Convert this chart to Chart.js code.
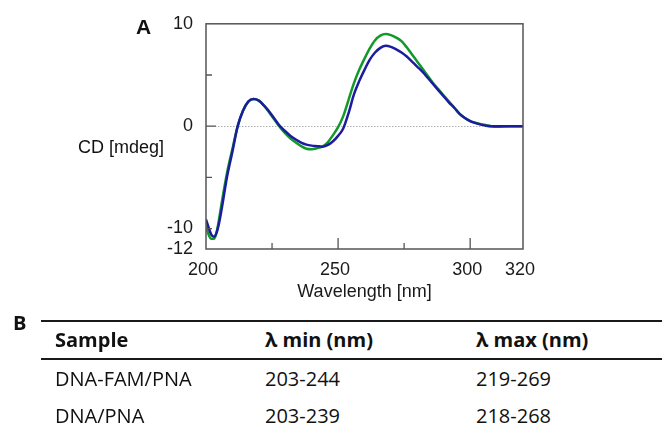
<!DOCTYPE html>
<html>
<head>
<meta charset="utf-8">
<script src="https://cdn.jsdelivr.net/npm/chart.js@4.4.1/dist/chart.umd.min.js"></script>
<style>
  html, body { margin: 0; padding: 0; background: #fff; }
  body { width: 662px; height: 431px; position: relative; overflow: hidden; }
  #wrap { position: absolute; left: 0; top: 0; width: 662px; height: 310px; }
  .lbl { position: absolute; white-space: nowrap; color: #111; }
  .panel { font-family: "Liberation Sans", Arial, sans-serif; font-weight: bold; font-size: 21px; }
  .tbl { font-family: "Open Sans", sans-serif; font-size: 20px; height: 28px; line-height: 28px; color: #111; }
  .hdr { font-weight: bold; }
  .rule { position: absolute; left: 41px; width: 621px; height: 2px; background: #1a1a1a; }
</style>
</head>
<body>
<div id="wrap"><canvas id="c" width="662" height="310"></canvas></div>
<div class="lbl panel" style="left:136px; top:15px;">A</div>
<div class="lbl" style="left:78px; top:137px; font-family:'Liberation Sans', Arial, sans-serif; font-size:18px;">CD [mdeg]</div>

<div class="lbl panel" style="left:13px; top:309px; font-family:'Open Sans', sans-serif; font-size:20px;">B</div>
<div class="rule" style="top:320px;"></div>
<div class="rule" style="top:358px;"></div>
<div id="table"></div>

<script>
// ---- data ----
const wavelengths = [200,201,202,203,204,205,206,208,210,212,214,216,218,220,222,224,226,228,230,232,234,236,238,240,242,244,246,248,250,252,254,256,258,260,262,264,266,268,270,272,274,276,278,280,282,284,286,288,290,292,294,296,298,300,302,304,306,308,310,315,320];
const greenSeries = [-9.8,-10.6,-11.0,-11.0,-10.4,-9.0,-7.4,-4.5,-2.2,0.0,1.5,2.4,2.65,2.5,2.0,1.3,0.6,-0.1,-0.7,-1.2,-1.6,-1.95,-2.2,-2.25,-2.15,-2.0,-1.6,-0.9,-0.1,1.0,2.6,4.2,5.5,6.6,7.6,8.4,8.85,9.0,8.9,8.65,8.3,7.7,7.0,6.3,5.6,4.9,4.2,3.6,3.0,2.4,1.8,1.2,0.8,0.5,0.35,0.2,0.1,0.0,-0.05,0.0,0.0];
const blueSeries = [-9.1,-9.9,-10.6,-10.8,-10.4,-9.4,-8.0,-4.9,-2.5,0.0,1.5,2.4,2.65,2.5,2.0,1.4,0.7,0.0,-0.5,-0.95,-1.3,-1.6,-1.8,-1.9,-1.95,-2.0,-1.85,-1.5,-0.95,-0.2,1.3,3.1,4.4,5.5,6.5,7.2,7.65,7.85,7.75,7.5,7.2,6.8,6.3,5.8,5.3,4.7,4.1,3.5,2.9,2.3,1.8,1.2,0.8,0.5,0.3,0.15,0.05,0.0,0.0,0.0,0.0];
const xTicks = [200,225,250,275,300,320];
const xLabeled = [200,250,300,320];
const yTicks = [-12,-10,-5,0,5,10];
const yLabeled = [-12,-10,0,10];
const seriesNames = ["DNA/PNA","DNA-FAM/PNA"];
const tableHeader = ["Sample","λ min (nm)","λ max (nm)"];
const tableRows = [["DNA-FAM/PNA","203-244","219-269"],["DNA/PNA","203-239","218-268"]];

// ---- table ----
const colX = [55, 265, 476];
const headerY = 340, rowY = [379, 416];
const tbl = document.getElementById('table');
function cell(text, x, cy, bold) {
  const d = document.createElement('div');
  d.className = 'lbl tbl' + (bold ? ' hdr' : '');
  d.style.left = x + 'px';
  d.style.top = (cy - 14) + 'px';
  d.textContent = text;
  tbl.appendChild(d);
}
tableHeader.forEach((t, i) => cell(t, colX[i], headerY, true));
tableRows.forEach((r, j) => r.forEach((t, i) => cell(t, colX[i], rowY[j], false)));

// ---- chart ----
const axisFont = { family: "'Liberation Sans', Arial, sans-serif", size: 18 };
const axisPlugin = {
  id: 'axisDeco',
  beforeDatasetsDraw(chart) {
    const { ctx, chartArea: a, scales: { x, y } } = chart;
    ctx.save();
    const y0 = Math.round(y.getPixelForValue(0)) + 0.5;
    ctx.strokeStyle = '#b0b0b0';
    ctx.lineWidth = 1;
    ctx.setLineDash([1.5, 1.5]);
    ctx.beginPath(); ctx.moveTo(a.left, y0); ctx.lineTo(a.right, y0); ctx.stroke();
    ctx.setLineDash([]);
    ctx.restore();
  },
  afterDatasetsDraw(chart) {
    const { ctx, chartArea: a, scales: { x, y } } = chart;
    ctx.save();
    ctx.strokeStyle = '#555';
    ctx.lineWidth = 1.5;
    ctx.strokeRect(a.left, a.top, a.right - a.left, a.bottom - a.top);
    ctx.lineWidth = 1.3;
    ctx.beginPath();
    xTicks.forEach(v => {
      if (v === 200 || v === 320) return;
      const px = x.getPixelForValue(v);
      const len = xLabeled.includes(v) ? 11 : 6;
      ctx.moveTo(px, a.bottom); ctx.lineTo(px, a.bottom - len);
    });
    yTicks.forEach(v => {
      if (v === 10 || v === -12) return;
      const py = y.getPixelForValue(v);
      const len = v === 0 ? 10 : 6;
      ctx.moveTo(a.left, py); ctx.lineTo(a.left + len, py);
    });
    ctx.stroke();
    ctx.restore();
  }
};

new Chart(document.getElementById('c'), {
  type: 'line',
  data: {
    datasets: [
      { label: seriesNames[1], data: wavelengths.map((w, i) => ({ x: w, y: blueSeries[i] })), borderColor: '#1c1c9e', borderWidth: 2.5, pointRadius: 0, cubicInterpolationMode: 'monotone', fill: false },
      { label: seriesNames[0], data: wavelengths.map((w, i) => ({ x: w, y: greenSeries[i] })), borderColor: '#12992a', borderWidth: 2.5, pointRadius: 0, cubicInterpolationMode: 'monotone', fill: false }
    ]
  },
  options: {
    responsive: false,
    animation: false,
    layout: { padding: { left: 0, right: 139, top: 23, bottom: 0 } },
    plugins: { legend: { display: false }, tooltip: { enabled: false } },
    scales: {
      x: {
        type: 'linear', min: 200, max: 320,
        afterBuildTicks: s => { s.ticks = xTicks.map(v => ({ value: v })); },
        afterFit: s => { s.height = 61; },
        grid: { display: false, drawTicks: false },
        border: { display: false },
        ticks: { font: axisFont, color: '#1a1a1a', padding: 10, labelOffset: -3, maxRotation: 0, autoSkip: false,
          callback: v => xLabeled.includes(v) ? String(v) : '' },
        title: { display: true, text: 'Wavelength [nm]', font: axisFont, color: '#1a1a1a', padding: { top: 0, bottom: 7 } }
      },
      y: {
        type: 'linear', min: -12, max: 10,
        afterBuildTicks: s => { s.ticks = yTicks.map(v => ({ value: v })); },
        afterFit: s => { s.width = 206; },
        grid: { display: false, drawTicks: false },
        border: { display: false },
        ticks: { font: axisFont, color: '#1a1a1a', padding: 13, autoSkip: false,
          callback: v => yLabeled.includes(v) ? String(v) : '' }
      }
    }
  },
  plugins: [axisPlugin]
});
</script>
</body>
</html>
